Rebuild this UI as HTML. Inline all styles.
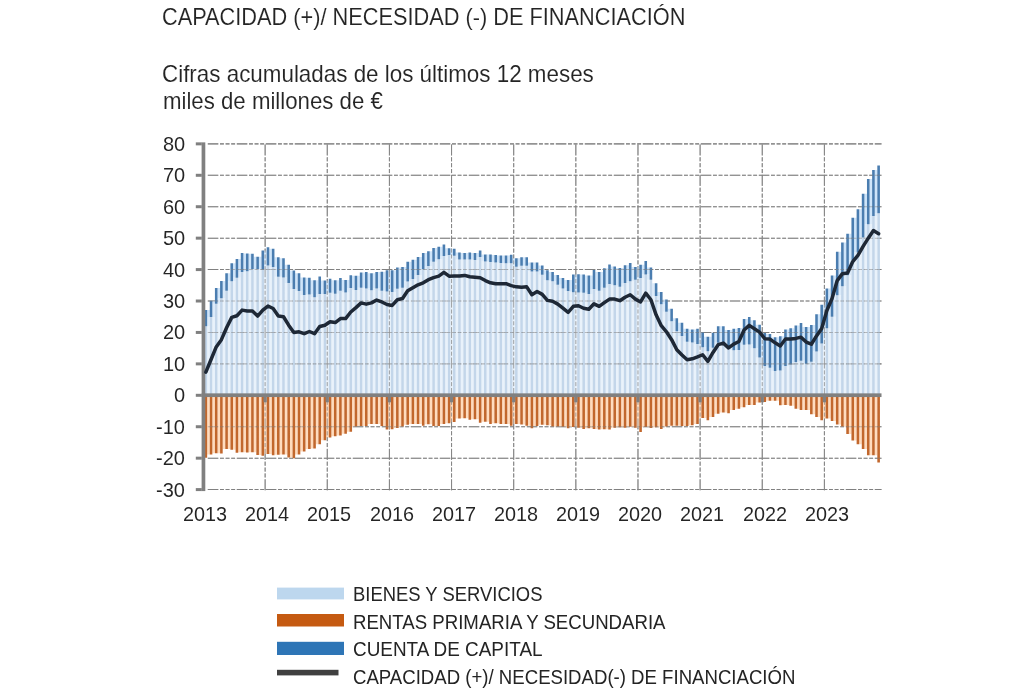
<!DOCTYPE html>
<html><head><meta charset="utf-8"><title>Chart</title>
<style>
html,body{margin:0;padding:0;background:#fff;}
body{width:1024px;height:694px;position:relative;overflow:hidden;font-family:"Liberation Sans",sans-serif;color:#242424;}
.t{position:absolute;white-space:nowrap;font-size:19px;line-height:22px;transform-origin:0 50%;}
.r{position:absolute;white-space:nowrap;font-size:19px;line-height:22px;text-align:right;transform-origin:100% 50%;}
.c{position:absolute;white-space:nowrap;font-size:19px;line-height:22px;text-align:center;transform-origin:50% 50%;}
</style></head><body>

<svg width="1024" height="694" viewBox="0 0 1024 694" style="position:absolute;left:0;top:0;filter:blur(0.35px)">
<g stroke="#808080" stroke-width="1.05" stroke-dasharray="10.5 1.7 3.9 1.7 3.9 1.7 3.9 1.7" fill="none"><path d="M207.8 489.59H881.5"/><path d="M207.8 458.16H881.5"/><path d="M207.8 426.73H881.5"/><path d="M207.8 363.87H881.5"/><path d="M207.8 332.44H881.5"/><path d="M207.8 301.01H881.5"/><path d="M207.8 269.58H881.5"/><path d="M207.8 238.15H881.5"/><path d="M207.8 206.72H881.5"/><path d="M207.8 175.29H881.5"/><path d="M207.8 143.86H881.5"/></g><g stroke="#868686" stroke-width="1" stroke-dasharray="11 1.8 4.08 1.8 4.08 1.8 4.08 1.8" fill="none"><path d="M265.14 490.29V143.16"/><path d="M327.28 490.29V143.16"/><path d="M389.42 490.29V143.16"/><path d="M451.56 490.29V143.16"/><path d="M513.7 490.29V143.16"/><path d="M575.84 490.29V143.16"/><path d="M637.98 490.29V143.16"/><path d="M700.12 490.29V143.16"/><path d="M762.26 490.29V143.16"/><path d="M824.4 490.29V143.16"/></g>
<path fill="#e9f2fb" d="M207.17 326.15h2.57V395.3h-2.57zM212.35 317.04h2.57V395.3h-2.57zM217.52 303.84h2.57V395.3h-2.57zM222.7 298.18h2.57V395.3h-2.57zM227.87 290.64h2.57V395.3h-2.57zM233.05 281.21h2.57V395.3h-2.57zM238.22 277.75h2.57V395.3h-2.57zM243.4 272.09h2.57V395.3h-2.57zM248.57 271.15h2.57V395.3h-2.57zM253.75 268.95h2.57V395.3h-2.57zM258.92 269.58h2.57V395.3h-2.57zM264.1 269.58h2.57V395.3h-2.57zM269.27 267.07h2.57V395.3h-2.57zM274.44 276.81h2.57V395.3h-2.57zM279.62 277.44h2.57V395.3h-2.57zM284.8 283.09h2.57V395.3h-2.57zM289.97 289.07h2.57V395.3h-2.57zM295.15 290.95h2.57V395.3h-2.57zM300.32 295.04h2.57V395.3h-2.57zM305.5 295.04h2.57V395.3h-2.57zM310.67 297.24h2.57V395.3h-2.57zM315.85 297.24h2.57V395.3h-2.57zM321.02 294.1h2.57V395.3h-2.57zM326.19 294.1h2.57V395.3h-2.57zM331.37 293.78h2.57V395.3h-2.57zM336.55 293.78h2.57V395.3h-2.57zM341.72 292.52h2.57V395.3h-2.57zM346.9 292.52h2.57V395.3h-2.57zM352.07 290.01h2.57V395.3h-2.57zM357.25 290.01h2.57V395.3h-2.57zM362.42 288.44h2.57V395.3h-2.57zM367.59 290.32h2.57V395.3h-2.57zM372.77 290.32h2.57V395.3h-2.57zM377.94 290.64h2.57V395.3h-2.57zM383.12 291.58h2.57V395.3h-2.57zM388.3 291.9h2.57V395.3h-2.57zM393.47 291.9h2.57V395.3h-2.57zM398.65 288.75h2.57V395.3h-2.57zM403.82 287.81h2.57V395.3h-2.57zM409 281.52h2.57V395.3h-2.57zM414.17 279.01h2.57V395.3h-2.57zM419.34 274.92h2.57V395.3h-2.57zM424.52 269.27h2.57V395.3h-2.57zM429.69 266.12h2.57V395.3h-2.57zM434.87 261.72h2.57V395.3h-2.57zM440.05 259.21h2.57V395.3h-2.57zM445.22 256.07h2.57V395.3h-2.57zM450.4 255.75h2.57V395.3h-2.57zM455.57 259.52h2.57V395.3h-2.57zM460.75 259.52h2.57V395.3h-2.57zM465.92 259.52h2.57V395.3h-2.57zM471.1 259.99h2.57V395.3h-2.57zM476.27 259.99h2.57V395.3h-2.57zM481.44 261.41h2.57V395.3h-2.57zM486.62 262.04h2.57V395.3h-2.57zM491.8 262.51h2.57V395.3h-2.57zM496.97 262.98h2.57V395.3h-2.57zM502.14 263.29h2.57V395.3h-2.57zM507.32 263.29h2.57V395.3h-2.57zM512.5 266.75h2.57V395.3h-2.57zM517.67 266.75h2.57V395.3h-2.57zM522.85 265.81h2.57V395.3h-2.57zM528.02 271.47h2.57V395.3h-2.57zM533.19 271.47h2.57V395.3h-2.57zM538.37 274.77h2.57V395.3h-2.57zM543.54 280.27h2.57V395.3h-2.57zM548.72 281.37h2.57V395.3h-2.57zM553.89 284.67h2.57V395.3h-2.57zM559.07 288.44h2.57V395.3h-2.57zM564.24 290.95h2.57V395.3h-2.57zM569.42 292.21h2.57V395.3h-2.57zM574.6 292.52h2.57V395.3h-2.57zM579.77 292.84h2.57V395.3h-2.57zM584.94 294.1h2.57V395.3h-2.57zM590.12 294.1h2.57V395.3h-2.57zM595.29 290.64h2.57V395.3h-2.57zM600.47 290.64h2.57V395.3h-2.57zM605.64 287.81h2.57V395.3h-2.57zM610.82 285.3h2.57V395.3h-2.57zM615.99 286.87h2.57V395.3h-2.57zM621.17 286.87h2.57V395.3h-2.57zM626.35 283.09h2.57V395.3h-2.57zM631.52 281.21h2.57V395.3h-2.57zM636.69 279.64h2.57V395.3h-2.57zM641.87 278.07h2.57V395.3h-2.57zM647.04 279.64h2.57V395.3h-2.57zM652.22 295.98h2.57V395.3h-2.57zM657.39 304.15h2.57V395.3h-2.57zM662.57 311.7h2.57V395.3h-2.57zM667.74 321.13h2.57V395.3h-2.57zM672.92 331.34h2.57V395.3h-2.57zM678.1 335.9h2.57V395.3h-2.57zM683.27 341.87h2.57V395.3h-2.57zM688.44 342.5h2.57V395.3h-2.57zM693.62 344.07h2.57V395.3h-2.57zM698.79 347.21h2.57V395.3h-2.57zM703.97 351.14h2.57V395.3h-2.57zM709.14 351.14h2.57V395.3h-2.57zM714.32 347.84h2.57V395.3h-2.57zM719.49 343.44h2.57V395.3h-2.57zM724.67 347.84h2.57V395.3h-2.57zM729.84 350.36h2.57V395.3h-2.57zM735.02 350.36h2.57V395.3h-2.57zM740.19 350.04h2.57V395.3h-2.57zM745.37 344.7h2.57V395.3h-2.57zM750.54 348.31h2.57V395.3h-2.57zM755.72 357.58h2.57V395.3h-2.57zM760.89 366.07h2.57V395.3h-2.57zM766.07 367.8h2.57V395.3h-2.57zM771.24 370.94h2.57V395.3h-2.57zM776.42 370.94h2.57V395.3h-2.57zM781.59 370.47h2.57V395.3h-2.57zM786.77 366.07h2.57V395.3h-2.57zM791.94 364.5h2.57V395.3h-2.57zM797.12 361.98h2.57V395.3h-2.57zM802.29 363.87h2.57V395.3h-2.57zM807.47 363.87h2.57V395.3h-2.57zM812.64 361.67h2.57V395.3h-2.57zM817.82 351.61h2.57V395.3h-2.57zM822.99 343.44h2.57V395.3h-2.57zM828.17 328.35h2.57V395.3h-2.57zM833.34 316.73h2.57V395.3h-2.57zM838.52 295.35h2.57V395.3h-2.57zM843.69 286.24h2.57V395.3h-2.57zM848.87 275.24h2.57V395.3h-2.57zM854.04 260.15h2.57V395.3h-2.57zM859.22 252.61h2.57V395.3h-2.57zM864.39 237.52h2.57V395.3h-2.57zM869.57 224.32h2.57V395.3h-2.57zM874.74 215.99h2.57V395.3h-2.57z"/><path fill="#dcebfa" d="M207.17 317.04h2.57V326.15h-2.57zM212.35 303.84h2.57V317.04h-2.57zM217.52 298.18h2.57V303.84h-2.57zM222.7 290.64h2.57V298.18h-2.57zM227.87 281.21h2.57V290.64h-2.57zM233.05 277.75h2.57V281.21h-2.57zM238.22 272.09h2.57V277.75h-2.57zM243.4 271.15h2.57V272.09h-2.57zM248.57 268.95h2.57V271.15h-2.57zM258.92 268.95h2.57V269.58h-2.57zM264.1 265.49h2.57V269.58h-2.57zM269.27 265.49h2.57V267.07h-2.57zM274.44 267.07h2.57V276.81h-2.57zM279.62 276.81h2.57V277.44h-2.57zM284.8 277.44h2.57V283.09h-2.57zM289.97 283.09h2.57V289.07h-2.57zM295.15 289.07h2.57V290.95h-2.57zM300.32 290.95h2.57V295.04h-2.57zM305.5 294.41h2.57V295.04h-2.57zM310.67 294.41h2.57V297.24h-2.57zM315.85 294.1h2.57V297.24h-2.57zM326.19 292.84h2.57V294.1h-2.57zM331.37 292.84h2.57V293.78h-2.57zM336.55 290.8h2.57V293.78h-2.57zM341.72 290.8h2.57V292.52h-2.57zM346.9 288.12h2.57V292.52h-2.57zM352.07 288.12h2.57V290.01h-2.57zM357.25 287.81h2.57V290.01h-2.57zM362.42 287.81h2.57V288.44h-2.57zM367.59 288.44h2.57V290.32h-2.57zM372.77 288.44h2.57V290.32h-2.57zM377.94 288.44h2.57V290.64h-2.57zM383.12 290.64h2.57V291.58h-2.57zM388.3 291.58h2.57V291.9h-2.57zM393.47 288.75h2.57V291.9h-2.57zM398.65 287.81h2.57V288.75h-2.57zM403.82 281.52h2.57V287.81h-2.57zM409 279.01h2.57V281.52h-2.57zM414.17 274.92h2.57V279.01h-2.57zM419.34 269.27h2.57V274.92h-2.57zM424.52 266.12h2.57V269.27h-2.57zM429.69 261.72h2.57V266.12h-2.57zM434.87 259.21h2.57V261.72h-2.57zM440.05 256.07h2.57V259.21h-2.57zM445.22 254.97h2.57V256.07h-2.57zM450.4 254.97h2.57V255.75h-2.57zM455.57 255.75h2.57V259.52h-2.57zM471.1 259.52h2.57V259.99h-2.57zM476.27 257.01h2.57V259.99h-2.57zM481.44 257.01h2.57V261.41h-2.57zM486.62 261.41h2.57V262.04h-2.57zM491.8 262.04h2.57V262.51h-2.57zM496.97 262.51h2.57V262.98h-2.57zM502.14 262.98h2.57V263.29h-2.57zM512.5 263.29h2.57V266.75h-2.57zM517.67 265.81h2.57V266.75h-2.57zM528.02 265.81h2.57V271.47h-2.57zM538.37 271.47h2.57V274.77h-2.57zM543.54 274.77h2.57V280.27h-2.57zM548.72 280.27h2.57V281.37h-2.57zM553.89 281.37h2.57V284.67h-2.57zM559.07 284.67h2.57V288.44h-2.57zM564.24 288.44h2.57V290.95h-2.57zM569.42 290.95h2.57V292.21h-2.57zM574.6 292.21h2.57V292.52h-2.57zM579.77 292.52h2.57V292.84h-2.57zM584.94 292.84h2.57V294.1h-2.57zM590.12 289.07h2.57V294.1h-2.57zM595.29 289.07h2.57V290.64h-2.57zM600.47 287.81h2.57V290.64h-2.57zM605.64 284.04h2.57V287.81h-2.57zM610.82 284.04h2.57V285.3h-2.57zM615.99 285.3h2.57V286.87h-2.57zM621.17 283.09h2.57V286.87h-2.57zM626.35 281.21h2.57V283.09h-2.57zM631.52 279.64h2.57V281.21h-2.57zM636.69 278.07h2.57V279.64h-2.57zM641.87 274.61h2.57V278.07h-2.57zM647.04 274.61h2.57V279.64h-2.57zM652.22 283.25h2.57V295.98h-2.57zM657.39 295.98h2.57V304.15h-2.57zM662.57 304.15h2.57V311.7h-2.57zM667.74 311.7h2.57V321.13h-2.57zM672.92 321.13h2.57V331.34h-2.57zM678.1 331.34h2.57V335.9h-2.57zM683.27 335.9h2.57V341.87h-2.57zM688.44 341.87h2.57V342.5h-2.57zM693.62 342.5h2.57V344.07h-2.57zM698.79 344.07h2.57V347.21h-2.57zM703.97 347.21h2.57V351.14h-2.57zM709.14 347.84h2.57V351.14h-2.57zM714.32 342.81h2.57V347.84h-2.57zM719.49 342.81h2.57V343.44h-2.57zM724.67 343.44h2.57V347.84h-2.57zM729.84 347.84h2.57V350.36h-2.57zM735.02 350.04h2.57V350.36h-2.57zM740.19 344.7h2.57V350.04h-2.57zM745.37 344.38h2.57V344.7h-2.57zM750.54 344.38h2.57V348.31h-2.57zM755.72 348.31h2.57V357.58h-2.57zM760.89 357.58h2.57V366.07h-2.57zM766.07 366.07h2.57V367.8h-2.57zM771.24 367.8h2.57V370.94h-2.57zM776.42 370.47h2.57V370.94h-2.57zM781.59 366.07h2.57V370.47h-2.57zM786.77 364.5h2.57V366.07h-2.57zM791.94 361.98h2.57V364.5h-2.57zM797.12 360.73h2.57V361.98h-2.57zM802.29 360.73h2.57V363.87h-2.57zM807.47 361.67h2.57V363.87h-2.57zM812.64 351.61h2.57V361.67h-2.57zM817.82 343.44h2.57V351.61h-2.57zM822.99 328.35h2.57V343.44h-2.57zM828.17 316.73h2.57V328.35h-2.57zM833.34 295.35h2.57V316.73h-2.57zM838.52 286.24h2.57V295.35h-2.57zM843.69 275.24h2.57V286.24h-2.57zM848.87 260.15h2.57V275.24h-2.57zM854.04 252.61h2.57V260.15h-2.57zM859.22 237.52h2.57V252.61h-2.57zM864.39 224.32h2.57V237.52h-2.57zM869.57 215.99h2.57V224.32h-2.57zM874.74 213.32h2.57V215.99h-2.57z"/><path fill="#cfe5fa" d="M207.17 310.12h2.57V317.04h-2.57zM212.35 300.7h2.57V303.84h-2.57zM217.52 288.12h2.57V298.18h-2.57zM222.7 280.89h2.57V290.64h-2.57zM227.87 273.35h2.57V281.21h-2.57zM233.05 263.29h2.57V277.75h-2.57zM238.22 258.89h2.57V272.09h-2.57zM243.4 253.55h2.57V271.15h-2.57zM248.57 253.87h2.57V268.95h-2.57zM253.75 256.69h2.57V268.95h-2.57zM258.92 256.69h2.57V268.95h-2.57zM264.1 250.41h2.57V265.49h-2.57zM269.27 248.84h2.57V265.49h-2.57zM274.44 257.32h2.57V267.07h-2.57zM279.62 258.27h2.57V276.81h-2.57zM284.8 264.87h2.57V277.44h-2.57zM289.97 270.52h2.57V283.09h-2.57zM295.15 273.35h2.57V289.07h-2.57zM300.32 277.44h2.57V290.95h-2.57zM305.5 277.75h2.57V294.41h-2.57zM310.67 280.27h2.57V294.41h-2.57zM315.85 280.27h2.57V294.1h-2.57zM321.02 280.58h2.57V294.1h-2.57zM326.19 280.58h2.57V292.84h-2.57zM331.37 280.27h2.57V292.84h-2.57zM336.55 280.27h2.57V290.8h-2.57zM341.72 280.11h2.57V290.8h-2.57zM346.9 280.11h2.57V288.12h-2.57zM352.07 275.71h2.57V288.12h-2.57zM357.25 275.71h2.57V287.81h-2.57zM362.42 272.41h2.57V287.81h-2.57zM367.59 273.35h2.57V288.44h-2.57zM372.77 273.35h2.57V288.44h-2.57zM377.94 272.09h2.57V288.44h-2.57zM383.12 271.78h2.57V290.64h-2.57zM388.3 270.21h2.57V291.58h-2.57zM393.47 270.21h2.57V288.75h-2.57zM398.65 267.38h2.57V287.81h-2.57zM403.82 267.07h2.57V281.52h-2.57zM409 261.72h2.57V279.01h-2.57zM414.17 259.84h2.57V274.92h-2.57zM419.34 257.01h2.57V269.27h-2.57zM424.52 252.92h2.57V266.12h-2.57zM429.69 251.35h2.57V261.72h-2.57zM434.87 247.89h2.57V259.21h-2.57zM440.05 246.64h2.57V256.07h-2.57zM445.22 248.21h2.57V254.97h-2.57zM450.4 248.84h2.57V254.97h-2.57zM455.57 252.61h2.57V255.75h-2.57zM460.75 252.92h2.57V259.52h-2.57zM465.92 252.92h2.57V259.52h-2.57zM471.1 252.92h2.57V259.52h-2.57zM476.27 252.92h2.57V257.01h-2.57zM481.44 254.49h2.57V257.01h-2.57zM486.62 254.49h2.57V261.41h-2.57zM491.8 255.12h2.57V262.04h-2.57zM496.97 255.44h2.57V262.51h-2.57zM502.14 255.44h2.57V262.98h-2.57zM507.32 255.44h2.57V263.29h-2.57zM512.5 258.27h2.57V263.29h-2.57zM517.67 258.27h2.57V265.81h-2.57zM522.85 257.32h2.57V265.81h-2.57zM528.02 262.51h2.57V265.81h-2.57zM533.19 262.51h2.57V271.47h-2.57zM538.37 265.49h2.57V271.47h-2.57zM543.54 270.21h2.57V274.77h-2.57zM548.72 272.09h2.57V280.27h-2.57zM553.89 274.92h2.57V281.37h-2.57zM559.07 278.07h2.57V284.67h-2.57zM564.24 280.11h2.57V288.44h-2.57zM569.42 280.11h2.57V290.95h-2.57zM574.6 274.61h2.57V292.21h-2.57zM579.77 274.61h2.57V292.52h-2.57zM584.94 275.55h2.57V292.84h-2.57zM590.12 275.55h2.57V289.07h-2.57zM595.29 272.09h2.57V289.07h-2.57zM600.47 272.09h2.57V287.81h-2.57zM605.64 268.32h2.57V284.04h-2.57zM610.82 266.44h2.57V284.04h-2.57zM615.99 268.01h2.57V285.3h-2.57zM621.17 268.01h2.57V283.09h-2.57zM626.35 265.18h2.57V281.21h-2.57zM631.52 267.07h2.57V279.64h-2.57zM636.69 267.07h2.57V278.07h-2.57zM641.87 264.87h2.57V274.61h-2.57zM647.04 267.38h2.57V274.61h-2.57zM657.39 291.9h2.57V295.98h-2.57zM662.57 299.6h2.57V304.15h-2.57zM667.74 308.87h2.57V311.7h-2.57zM672.92 318.3h2.57V321.13h-2.57zM678.1 322.7h2.57V331.34h-2.57zM683.27 328.67h2.57V335.9h-2.57zM688.44 329.45h2.57V341.87h-2.57zM693.62 329.45h2.57V342.5h-2.57zM698.79 332.13h2.57V344.07h-2.57zM703.97 336.84h2.57V347.21h-2.57zM709.14 336.84h2.57V347.84h-2.57zM714.32 332.75h2.57V342.81h-2.57zM719.49 326.15h2.57V342.81h-2.57zM724.67 330.08h2.57V343.44h-2.57zM729.84 330.08h2.57V347.84h-2.57zM735.02 328.67h2.57V350.04h-2.57zM740.19 328.04h2.57V344.7h-2.57zM745.37 318.93h2.57V344.38h-2.57zM750.54 320.18h2.57V344.38h-2.57zM755.72 324.74h2.57V348.31h-2.57zM760.89 332.91h2.57V357.58h-2.57zM766.07 334.01h2.57V366.07h-2.57zM771.24 337.31h2.57V367.8h-2.57zM776.42 337.31h2.57V370.47h-2.57zM781.59 336.37h2.57V366.07h-2.57zM786.77 329.61h2.57V364.5h-2.57zM791.94 328.35h2.57V361.98h-2.57zM797.12 325.53h2.57V360.73h-2.57zM802.29 327.1h2.57V360.73h-2.57zM807.47 327.1h2.57V361.67h-2.57zM812.64 324.9h2.57V351.61h-2.57zM817.82 314.21h2.57V343.44h-2.57zM822.99 304.78h2.57V328.35h-2.57zM828.17 288.44h2.57V316.73h-2.57zM833.34 275.55h2.57V295.35h-2.57zM838.52 251.66h2.57V286.24h-2.57zM843.69 242.55h2.57V275.24h-2.57zM848.87 233.75h2.57V260.15h-2.57zM854.04 217.72h2.57V252.61h-2.57zM859.22 209.23h2.57V237.52h-2.57zM864.39 193.83h2.57V224.32h-2.57zM869.57 179.06h2.57V215.99h-2.57zM874.74 169.95h2.57V213.32h-2.57z"/>
<path fill="#ffdcbe" d="M207.17 395.3h2.57V454.39h-2.57zM212.35 395.3h2.57V453.13h-2.57zM217.52 395.3h2.57V453.13h-2.57zM222.7 395.3h2.57V449.05h-2.57zM227.87 395.3h2.57V449.05h-2.57zM233.05 395.3h2.57V449.67h-2.57zM238.22 395.3h2.57V452.19h-2.57zM243.4 395.3h2.57V452.19h-2.57zM248.57 395.3h2.57V452.19h-2.57zM253.75 395.3h2.57V452.19h-2.57zM258.92 395.3h2.57V455.02h-2.57zM264.1 395.3h2.57V454.07h-2.57zM269.27 395.3h2.57V454.07h-2.57zM274.44 395.3h2.57V454.7h-2.57zM279.62 395.3h2.57V454.39h-2.57zM284.8 395.3h2.57V454.39h-2.57zM289.97 395.3h2.57V457.53h-2.57zM295.15 395.3h2.57V454.39h-2.57zM300.32 395.3h2.57V451.56h-2.57zM305.5 395.3h2.57V449.05h-2.57zM310.67 395.3h2.57V448.42h-2.57zM315.85 395.3h2.57V444.33h-2.57zM321.02 395.3h2.57V440.24h-2.57zM326.19 395.3h2.57V437.42h-2.57zM331.37 395.3h2.57V436.16h-2.57zM336.55 395.3h2.57V435.53h-2.57zM341.72 395.3h2.57V433.64h-2.57zM346.9 395.3h2.57V431.76h-2.57zM352.07 395.3h2.57V426.42h-2.57zM357.25 395.3h2.57V426.1h-2.57zM362.42 395.3h2.57V426.1h-2.57zM367.59 395.3h2.57V423.9h-2.57zM372.77 395.3h2.57V423.9h-2.57zM377.94 395.3h2.57V423.9h-2.57zM383.12 395.3h2.57V426.1h-2.57zM388.3 395.3h2.57V429.24h-2.57zM393.47 395.3h2.57V427.99h-2.57zM398.65 395.3h2.57V426.42h-2.57zM403.82 395.3h2.57V424.84h-2.57zM409 395.3h2.57V423.9h-2.57zM414.17 395.3h2.57V423.9h-2.57zM419.34 395.3h2.57V423.9h-2.57zM424.52 395.3h2.57V424.22h-2.57zM429.69 395.3h2.57V424.22h-2.57zM434.87 395.3h2.57V426.1h-2.57zM440.05 395.3h2.57V423.9h-2.57zM445.22 395.3h2.57V423.27h-2.57zM450.4 395.3h2.57V422.02h-2.57zM455.57 395.3h2.57V418.56h-2.57zM460.75 395.3h2.57V418.24h-2.57zM465.92 395.3h2.57V418.24h-2.57zM471.1 395.3h2.57V419.19h-2.57zM476.27 395.3h2.57V419.19h-2.57zM481.44 395.3h2.57V421.7h-2.57zM486.62 395.3h2.57V421.7h-2.57zM491.8 395.3h2.57V423.27h-2.57zM496.97 395.3h2.57V423.27h-2.57zM502.14 395.3h2.57V423.9h-2.57zM507.32 395.3h2.57V423.9h-2.57zM512.5 395.3h2.57V423.9h-2.57zM517.67 395.3h2.57V423.9h-2.57zM522.85 395.3h2.57V424.53h-2.57zM528.02 395.3h2.57V425.79h-2.57zM533.19 395.3h2.57V426.1h-2.57zM538.37 395.3h2.57V424.84h-2.57zM543.54 395.3h2.57V424.84h-2.57zM548.72 395.3h2.57V425.16h-2.57zM553.89 395.3h2.57V426.42h-2.57zM559.07 395.3h2.57V426.42h-2.57zM564.24 395.3h2.57V426.73h-2.57zM569.42 395.3h2.57V427.04h-2.57zM574.6 395.3h2.57V427.04h-2.57zM579.77 395.3h2.57V427.67h-2.57zM584.94 395.3h2.57V428.3h-2.57zM590.12 395.3h2.57V428.3h-2.57zM595.29 395.3h2.57V428.93h-2.57zM600.47 395.3h2.57V429.24h-2.57zM605.64 395.3h2.57V429.24h-2.57zM610.82 395.3h2.57V427.67h-2.57zM615.99 395.3h2.57V427.36h-2.57zM621.17 395.3h2.57V427.36h-2.57zM626.35 395.3h2.57V426.73h-2.57zM631.52 395.3h2.57V426.73h-2.57zM636.69 395.3h2.57V427.67h-2.57zM641.87 395.3h2.57V427.04h-2.57zM647.04 395.3h2.57V427.04h-2.57zM652.22 395.3h2.57V427.36h-2.57zM657.39 395.3h2.57V427.36h-2.57zM662.57 395.3h2.57V426.42h-2.57zM667.74 395.3h2.57V425.79h-2.57zM672.92 395.3h2.57V425.79h-2.57zM678.1 395.3h2.57V425.79h-2.57zM683.27 395.3h2.57V426.1h-2.57zM688.44 395.3h2.57V425.16h-2.57zM693.62 395.3h2.57V423.9h-2.57zM698.79 395.3h2.57V417.93h-2.57zM703.97 395.3h2.57V417.93h-2.57zM709.14 395.3h2.57V416.99h-2.57zM714.32 395.3h2.57V413.84h-2.57zM719.49 395.3h2.57V412.59h-2.57zM724.67 395.3h2.57V412.59h-2.57zM729.84 395.3h2.57V410.07h-2.57zM735.02 395.3h2.57V408.81h-2.57zM740.19 395.3h2.57V407.24h-2.57zM745.37 395.3h2.57V405.04h-2.57zM750.54 395.3h2.57V405.04h-2.57zM755.72 395.3h2.57V402.53h-2.57zM760.89 395.3h2.57V401.9h-2.57zM766.07 395.3h2.57V400.64h-2.57zM771.24 395.3h2.57V400.64h-2.57zM776.42 395.3h2.57V400.64h-2.57zM781.59 395.3h2.57V405.04h-2.57zM786.77 395.3h2.57V405.04h-2.57zM791.94 395.3h2.57V405.67h-2.57zM797.12 395.3h2.57V408.81h-2.57zM802.29 395.3h2.57V410.07h-2.57zM807.47 395.3h2.57V410.07h-2.57zM812.64 395.3h2.57V414.16h-2.57zM817.82 395.3h2.57V416.99h-2.57zM822.99 395.3h2.57V418.56h-2.57zM828.17 395.3h2.57V418.56h-2.57zM833.34 395.3h2.57V421.07h-2.57zM838.52 395.3h2.57V424.53h-2.57zM843.69 395.3h2.57V426.42h-2.57zM848.87 395.3h2.57V433.96h-2.57zM854.04 395.3h2.57V440.56h-2.57zM859.22 395.3h2.57V444.33h-2.57zM864.39 395.3h2.57V449.05h-2.57zM869.57 395.3h2.57V455.33h-2.57zM874.74 395.3h2.57V455.33h-2.57z"/>
<path fill="#c3d6ea" d="M204.57 326.15h2.6V395.3h-2.6zM209.75 317.04h2.6V395.3h-2.6zM214.92 303.84h2.6V395.3h-2.6zM220.09 298.18h2.6V395.3h-2.6zM225.27 290.64h2.6V395.3h-2.6zM230.44 281.21h2.6V395.3h-2.6zM235.62 277.75h2.6V395.3h-2.6zM240.79 272.09h2.6V395.3h-2.6zM245.97 271.15h2.6V395.3h-2.6zM251.14 268.95h2.6V395.3h-2.6zM256.32 268.95h2.6V395.3h-2.6zM261.5 269.58h2.6V395.3h-2.6zM266.67 265.49h2.6V395.3h-2.6zM271.84 267.07h2.6V395.3h-2.6zM277.02 276.81h2.6V395.3h-2.6zM282.19 277.44h2.6V395.3h-2.6zM287.37 283.09h2.6V395.3h-2.6zM292.55 289.07h2.6V395.3h-2.6zM297.72 290.95h2.6V395.3h-2.6zM302.89 295.04h2.6V395.3h-2.6zM308.07 294.41h2.6V395.3h-2.6zM313.25 297.24h2.6V395.3h-2.6zM318.42 294.1h2.6V395.3h-2.6zM323.59 294.1h2.6V395.3h-2.6zM328.77 292.84h2.6V395.3h-2.6zM333.94 293.78h2.6V395.3h-2.6zM339.12 290.8h2.6V395.3h-2.6zM344.3 292.52h2.6V395.3h-2.6zM349.47 288.12h2.6V395.3h-2.6zM354.64 290.01h2.6V395.3h-2.6zM359.82 287.81h2.6V395.3h-2.6zM364.99 288.44h2.6V395.3h-2.6zM370.17 290.32h2.6V395.3h-2.6zM375.34 288.44h2.6V395.3h-2.6zM380.52 290.64h2.6V395.3h-2.6zM385.69 291.58h2.6V395.3h-2.6zM390.87 291.9h2.6V395.3h-2.6zM396.05 288.75h2.6V395.3h-2.6zM401.22 287.81h2.6V395.3h-2.6zM406.39 281.52h2.6V395.3h-2.6zM411.57 279.01h2.6V395.3h-2.6zM416.74 274.92h2.6V395.3h-2.6zM421.92 269.27h2.6V395.3h-2.6zM427.09 266.12h2.6V395.3h-2.6zM432.27 261.72h2.6V395.3h-2.6zM437.44 259.21h2.6V395.3h-2.6zM442.62 256.07h2.6V395.3h-2.6zM447.8 254.97h2.6V395.3h-2.6zM452.97 255.75h2.6V395.3h-2.6zM458.14 259.52h2.6V395.3h-2.6zM463.32 259.52h2.6V395.3h-2.6zM468.5 259.52h2.6V395.3h-2.6zM473.67 259.99h2.6V395.3h-2.6zM478.84 257.01h2.6V395.3h-2.6zM484.02 261.41h2.6V395.3h-2.6zM489.19 262.04h2.6V395.3h-2.6zM494.37 262.51h2.6V395.3h-2.6zM499.54 262.98h2.6V395.3h-2.6zM504.72 263.29h2.6V395.3h-2.6zM509.89 263.29h2.6V395.3h-2.6zM515.07 266.75h2.6V395.3h-2.6zM520.25 265.81h2.6V395.3h-2.6zM525.42 265.81h2.6V395.3h-2.6zM530.6 271.47h2.6V395.3h-2.6zM535.77 271.47h2.6V395.3h-2.6zM540.95 274.77h2.6V395.3h-2.6zM546.12 280.27h2.6V395.3h-2.6zM551.3 281.37h2.6V395.3h-2.6zM556.47 284.67h2.6V395.3h-2.6zM561.64 288.44h2.6V395.3h-2.6zM566.82 290.95h2.6V395.3h-2.6zM572 292.21h2.6V395.3h-2.6zM577.17 292.52h2.6V395.3h-2.6zM582.35 292.84h2.6V395.3h-2.6zM587.52 294.1h2.6V395.3h-2.6zM592.7 289.07h2.6V395.3h-2.6zM597.87 290.64h2.6V395.3h-2.6zM603.05 287.81h2.6V395.3h-2.6zM608.22 284.04h2.6V395.3h-2.6zM613.39 285.3h2.6V395.3h-2.6zM618.57 286.87h2.6V395.3h-2.6zM623.75 283.09h2.6V395.3h-2.6zM628.92 281.21h2.6V395.3h-2.6zM634.1 279.64h2.6V395.3h-2.6zM639.27 278.07h2.6V395.3h-2.6zM644.45 274.61h2.6V395.3h-2.6zM649.62 279.64h2.6V395.3h-2.6zM654.8 295.98h2.6V395.3h-2.6zM659.97 304.15h2.6V395.3h-2.6zM665.14 311.7h2.6V395.3h-2.6zM670.32 321.13h2.6V395.3h-2.6zM675.5 331.34h2.6V395.3h-2.6zM680.67 335.9h2.6V395.3h-2.6zM685.85 341.87h2.6V395.3h-2.6zM691.02 342.5h2.6V395.3h-2.6zM696.2 344.07h2.6V395.3h-2.6zM701.37 347.21h2.6V395.3h-2.6zM706.55 351.14h2.6V395.3h-2.6zM711.72 347.84h2.6V395.3h-2.6zM716.89 342.81h2.6V395.3h-2.6zM722.07 343.44h2.6V395.3h-2.6zM727.25 347.84h2.6V395.3h-2.6zM732.42 350.36h2.6V395.3h-2.6zM737.6 350.04h2.6V395.3h-2.6zM742.77 344.7h2.6V395.3h-2.6zM747.95 344.38h2.6V395.3h-2.6zM753.12 348.31h2.6V395.3h-2.6zM758.3 357.58h2.6V395.3h-2.6zM763.47 366.07h2.6V395.3h-2.6zM768.64 367.8h2.6V395.3h-2.6zM773.82 370.94h2.6V395.3h-2.6zM779 370.47h2.6V395.3h-2.6zM784.17 366.07h2.6V395.3h-2.6zM789.35 364.5h2.6V395.3h-2.6zM794.52 361.98h2.6V395.3h-2.6zM799.7 360.73h2.6V395.3h-2.6zM804.87 363.87h2.6V395.3h-2.6zM810.05 361.67h2.6V395.3h-2.6zM815.22 351.61h2.6V395.3h-2.6zM820.39 343.44h2.6V395.3h-2.6zM825.57 328.35h2.6V395.3h-2.6zM830.75 316.73h2.6V395.3h-2.6zM835.92 295.35h2.6V395.3h-2.6zM841.1 286.24h2.6V395.3h-2.6zM846.27 275.24h2.6V395.3h-2.6zM851.45 260.15h2.6V395.3h-2.6zM856.62 252.61h2.6V395.3h-2.6zM861.8 237.52h2.6V395.3h-2.6zM866.97 224.32h2.6V395.3h-2.6zM872.14 215.99h2.6V395.3h-2.6zM877.32 213.32h2.6V395.3h-2.6z"/>
<path fill="#4a7db0" d="M204.57 310.12h2.6V326.15h-2.6zM209.75 300.7h2.6V317.04h-2.6zM214.92 288.12h2.6V303.84h-2.6zM220.09 280.89h2.6V298.18h-2.6zM225.27 273.35h2.6V290.64h-2.6zM230.44 263.29h2.6V281.21h-2.6zM235.62 258.89h2.6V277.75h-2.6zM240.79 252.92h2.6V272.09h-2.6zM245.97 253.55h2.6V271.15h-2.6zM251.14 253.87h2.6V268.95h-2.6zM256.32 256.69h2.6V268.95h-2.6zM261.5 250.41h2.6V269.58h-2.6zM266.67 247.26h2.6V265.49h-2.6zM271.84 248.84h2.6V267.07h-2.6zM277.02 257.32h2.6V276.81h-2.6zM282.19 258.27h2.6V277.44h-2.6zM287.37 264.87h2.6V283.09h-2.6zM292.55 270.52h2.6V289.07h-2.6zM297.72 273.35h2.6V290.95h-2.6zM302.89 277.44h2.6V295.04h-2.6zM308.07 277.75h2.6V294.41h-2.6zM313.25 280.27h2.6V297.24h-2.6zM318.42 276.49h2.6V294.1h-2.6zM323.59 280.58h2.6V294.1h-2.6zM328.77 278.85h2.6V292.84h-2.6zM333.94 280.27h2.6V293.78h-2.6zM339.12 278.07h2.6V290.8h-2.6zM344.3 280.11h2.6V292.52h-2.6zM349.47 275.24h2.6V288.12h-2.6zM354.64 275.71h2.6V290.01h-2.6zM359.82 272.41h2.6V287.81h-2.6zM364.99 272.09h2.6V288.44h-2.6zM370.17 273.35h2.6V290.32h-2.6zM375.34 272.09h2.6V288.44h-2.6zM380.52 271.78h2.6V290.64h-2.6zM385.69 270.21h2.6V291.58h-2.6zM390.87 270.21h2.6V291.9h-2.6zM396.05 267.38h2.6V288.75h-2.6zM401.22 267.07h2.6V287.81h-2.6zM406.39 261.72h2.6V281.52h-2.6zM411.57 259.84h2.6V279.01h-2.6zM416.74 257.01h2.6V274.92h-2.6zM421.92 252.92h2.6V269.27h-2.6zM427.09 251.35h2.6V266.12h-2.6zM432.27 247.89h2.6V261.72h-2.6zM437.44 246.64h2.6V259.21h-2.6zM442.62 244.44h2.6V256.07h-2.6zM447.8 248.21h2.6V254.97h-2.6zM452.97 248.84h2.6V255.75h-2.6zM458.14 252.61h2.6V259.52h-2.6zM463.32 252.92h2.6V259.52h-2.6zM468.5 252.61h2.6V259.52h-2.6zM473.67 252.92h2.6V259.99h-2.6zM478.84 250.41h2.6V257.01h-2.6zM484.02 254.49h2.6V261.41h-2.6zM489.19 254.49h2.6V262.04h-2.6zM494.37 255.12h2.6V262.51h-2.6zM499.54 255.44h2.6V262.98h-2.6zM504.72 255.44h2.6V263.29h-2.6zM509.89 254.81h2.6V263.29h-2.6zM515.07 258.27h2.6V266.75h-2.6zM520.25 257.32h2.6V265.81h-2.6zM525.42 257.32h2.6V265.81h-2.6zM530.6 262.51h2.6V271.47h-2.6zM535.77 262.51h2.6V271.47h-2.6zM540.95 265.49h2.6V274.77h-2.6zM546.12 270.21h2.6V280.27h-2.6zM551.3 272.09h2.6V281.37h-2.6zM556.47 274.92h2.6V284.67h-2.6zM561.64 278.07h2.6V288.44h-2.6zM566.82 280.11h2.6V290.95h-2.6zM572 274.61h2.6V292.21h-2.6zM577.17 274.29h2.6V292.52h-2.6zM582.35 274.61h2.6V292.84h-2.6zM587.52 275.55h2.6V294.1h-2.6zM592.7 269.89h2.6V289.07h-2.6zM597.87 272.09h2.6V290.64h-2.6zM603.05 268.32h2.6V287.81h-2.6zM608.22 264.55h2.6V284.04h-2.6zM613.39 266.44h2.6V285.3h-2.6zM618.57 268.01h2.6V286.87h-2.6zM623.75 265.18h2.6V283.09h-2.6zM628.92 262.98h2.6V281.21h-2.6zM634.1 267.07h2.6V279.64h-2.6zM639.27 264.87h2.6V278.07h-2.6zM644.45 261.09h2.6V274.61h-2.6zM649.62 267.38h2.6V279.64h-2.6zM654.8 283.25h2.6V295.98h-2.6zM659.97 291.9h2.6V304.15h-2.6zM665.14 299.6h2.6V311.7h-2.6zM670.32 308.87h2.6V321.13h-2.6zM675.5 318.3h2.6V331.34h-2.6zM680.67 322.7h2.6V335.9h-2.6zM685.85 328.67h2.6V341.87h-2.6zM691.02 329.45h2.6V342.5h-2.6zM696.2 328.67h2.6V344.07h-2.6zM701.37 332.13h2.6V347.21h-2.6zM706.55 336.84h2.6V351.14h-2.6zM711.72 332.75h2.6V347.84h-2.6zM716.89 326.15h2.6V342.81h-2.6zM722.07 326.15h2.6V343.44h-2.6zM727.25 330.08h2.6V347.84h-2.6zM732.42 328.67h2.6V350.36h-2.6zM737.6 328.04h2.6V350.04h-2.6zM742.77 318.93h2.6V344.7h-2.6zM747.95 317.04h2.6V344.38h-2.6zM753.12 320.18h2.6V348.31h-2.6zM758.3 324.74h2.6V357.58h-2.6zM763.47 332.91h2.6V366.07h-2.6zM768.64 334.01h2.6V367.8h-2.6zM773.82 337.31h2.6V370.94h-2.6zM779 336.37h2.6V370.47h-2.6zM784.17 329.61h2.6V366.07h-2.6zM789.35 328.35h2.6V364.5h-2.6zM794.52 325.53h2.6V361.98h-2.6zM799.7 323.01h2.6V360.73h-2.6zM804.87 327.1h2.6V363.87h-2.6zM810.05 324.9h2.6V361.67h-2.6zM815.22 314.21h2.6V351.61h-2.6zM820.39 304.78h2.6V343.44h-2.6zM825.57 288.44h2.6V328.35h-2.6zM830.75 275.55h2.6V316.73h-2.6zM835.92 251.66h2.6V295.35h-2.6zM841.1 242.55h2.6V286.24h-2.6zM846.27 233.75h2.6V275.24h-2.6zM851.45 217.72h2.6V260.15h-2.6zM856.62 209.23h2.6V252.61h-2.6zM861.8 193.83h2.6V237.52h-2.6zM866.97 179.06h2.6V224.32h-2.6zM872.14 169.95h2.6V215.99h-2.6zM877.32 165.55h2.6V213.32h-2.6z"/>
<path fill="#c2672c" d="M204.57 395.3h2.6V457.85h-2.6zM209.75 395.3h2.6V454.39h-2.6zM214.92 395.3h2.6V453.13h-2.6zM220.09 395.3h2.6V453.45h-2.6zM225.27 395.3h2.6V449.05h-2.6zM230.44 395.3h2.6V449.67h-2.6zM235.62 395.3h2.6V452.82h-2.6zM240.79 395.3h2.6V452.19h-2.6zM245.97 395.3h2.6V452.5h-2.6zM251.14 395.3h2.6V452.19h-2.6zM256.32 395.3h2.6V455.02h-2.6zM261.5 395.3h2.6V455.65h-2.6zM266.67 395.3h2.6V454.07h-2.6zM271.84 395.3h2.6V455.33h-2.6zM277.02 395.3h2.6V454.7h-2.6zM282.19 395.3h2.6V454.39h-2.6zM287.37 395.3h2.6V457.53h-2.6zM292.55 395.3h2.6V458.16h-2.6zM297.72 395.3h2.6V454.39h-2.6zM302.89 395.3h2.6V451.56h-2.6zM308.07 395.3h2.6V449.05h-2.6zM313.25 395.3h2.6V448.42h-2.6zM318.42 395.3h2.6V444.33h-2.6zM323.59 395.3h2.6V440.24h-2.6zM328.77 395.3h2.6V437.42h-2.6zM333.94 395.3h2.6V436.16h-2.6zM339.12 395.3h2.6V435.53h-2.6zM344.3 395.3h2.6V433.64h-2.6zM349.47 395.3h2.6V431.76h-2.6zM354.64 395.3h2.6V426.42h-2.6zM359.82 395.3h2.6V426.1h-2.6zM364.99 395.3h2.6V426.1h-2.6zM370.17 395.3h2.6V423.9h-2.6zM375.34 395.3h2.6V423.9h-2.6zM380.52 395.3h2.6V426.1h-2.6zM385.69 395.3h2.6V429.56h-2.6zM390.87 395.3h2.6V429.24h-2.6zM396.05 395.3h2.6V427.99h-2.6zM401.22 395.3h2.6V426.42h-2.6zM406.39 395.3h2.6V424.84h-2.6zM411.57 395.3h2.6V423.9h-2.6zM416.74 395.3h2.6V423.9h-2.6zM421.92 395.3h2.6V425.79h-2.6zM427.09 395.3h2.6V424.22h-2.6zM432.27 395.3h2.6V426.1h-2.6zM437.44 395.3h2.6V426.1h-2.6zM442.62 395.3h2.6V423.9h-2.6zM447.8 395.3h2.6V423.27h-2.6zM452.97 395.3h2.6V422.02h-2.6zM458.14 395.3h2.6V418.56h-2.6zM463.32 395.3h2.6V418.24h-2.6zM468.5 395.3h2.6V419.82h-2.6zM473.67 395.3h2.6V419.19h-2.6zM478.84 395.3h2.6V422.64h-2.6zM484.02 395.3h2.6V421.7h-2.6zM489.19 395.3h2.6V423.9h-2.6zM494.37 395.3h2.6V423.27h-2.6zM499.54 395.3h2.6V423.9h-2.6zM504.72 395.3h2.6V423.9h-2.6zM509.89 395.3h2.6V425.79h-2.6zM515.07 395.3h2.6V423.9h-2.6zM520.25 395.3h2.6V424.53h-2.6zM525.42 395.3h2.6V425.79h-2.6zM530.6 395.3h2.6V428.3h-2.6zM535.77 395.3h2.6V426.1h-2.6zM540.95 395.3h2.6V424.84h-2.6zM546.12 395.3h2.6V425.16h-2.6zM551.3 395.3h2.6V426.42h-2.6zM556.47 395.3h2.6V426.42h-2.6zM561.64 395.3h2.6V426.73h-2.6zM566.82 395.3h2.6V428.3h-2.6zM572 395.3h2.6V427.04h-2.6zM577.17 395.3h2.6V427.67h-2.6zM582.35 395.3h2.6V428.93h-2.6zM587.52 395.3h2.6V428.3h-2.6zM592.7 395.3h2.6V428.93h-2.6zM597.87 395.3h2.6V429.56h-2.6zM603.05 395.3h2.6V429.24h-2.6zM608.22 395.3h2.6V429.56h-2.6zM613.39 395.3h2.6V427.67h-2.6zM618.57 395.3h2.6V427.36h-2.6zM623.75 395.3h2.6V427.67h-2.6zM628.92 395.3h2.6V426.73h-2.6zM634.1 395.3h2.6V427.67h-2.6zM639.27 395.3h2.6V432.07h-2.6zM644.45 395.3h2.6V427.04h-2.6zM649.62 395.3h2.6V427.99h-2.6zM654.8 395.3h2.6V427.36h-2.6zM659.97 395.3h2.6V428.93h-2.6zM665.14 395.3h2.6V426.42h-2.6zM670.32 395.3h2.6V425.79h-2.6zM675.5 395.3h2.6V425.79h-2.6zM680.67 395.3h2.6V426.1h-2.6zM685.85 395.3h2.6V426.1h-2.6zM691.02 395.3h2.6V425.16h-2.6zM696.2 395.3h2.6V423.9h-2.6zM701.37 395.3h2.6V417.93h-2.6zM706.55 395.3h2.6V420.13h-2.6zM711.72 395.3h2.6V416.99h-2.6zM716.89 395.3h2.6V413.84h-2.6zM722.07 395.3h2.6V412.59h-2.6zM727.25 395.3h2.6V413.22h-2.6zM732.42 395.3h2.6V410.07h-2.6zM737.6 395.3h2.6V408.81h-2.6zM742.77 395.3h2.6V407.24h-2.6zM747.95 395.3h2.6V405.04h-2.6zM753.12 395.3h2.6V405.04h-2.6zM758.3 395.3h2.6V402.53h-2.6zM763.47 395.3h2.6V401.9h-2.6zM768.64 395.3h2.6V400.64h-2.6zM773.82 395.3h2.6V400.64h-2.6zM779 395.3h2.6V405.36h-2.6zM784.17 395.3h2.6V405.04h-2.6zM789.35 395.3h2.6V405.67h-2.6zM794.52 395.3h2.6V408.81h-2.6zM799.7 395.3h2.6V410.07h-2.6zM804.87 395.3h2.6V410.07h-2.6zM810.05 395.3h2.6V414.16h-2.6zM815.22 395.3h2.6V416.99h-2.6zM820.39 395.3h2.6V420.13h-2.6zM825.57 395.3h2.6V418.56h-2.6zM830.75 395.3h2.6V421.07h-2.6zM835.92 395.3h2.6V424.53h-2.6zM841.1 395.3h2.6V426.42h-2.6zM846.27 395.3h2.6V433.96h-2.6zM851.45 395.3h2.6V440.56h-2.6zM856.62 395.3h2.6V444.33h-2.6zM861.8 395.3h2.6V449.05h-2.6zM866.97 395.3h2.6V455.33h-2.6zM872.14 395.3h2.6V455.33h-2.6zM877.32 395.3h2.6V462.56h-2.6z"/>
<g opacity="0.5"><g stroke="#808080" stroke-width="1.05" stroke-dasharray="10.5 1.7 3.9 1.7 3.9 1.7 3.9 1.7" fill="none"><path d="M207.8 489.59H881.5"/><path d="M207.8 458.16H881.5"/><path d="M207.8 426.73H881.5"/><path d="M207.8 363.87H881.5"/><path d="M207.8 332.44H881.5"/><path d="M207.8 301.01H881.5"/><path d="M207.8 269.58H881.5"/><path d="M207.8 238.15H881.5"/><path d="M207.8 206.72H881.5"/><path d="M207.8 175.29H881.5"/><path d="M207.8 143.86H881.5"/></g></g><g opacity="0.75"><g stroke="#868686" stroke-width="1" stroke-dasharray="11 1.8 4.08 1.8 4.08 1.8 4.08 1.8" fill="none"><path d="M265.14 490.29V143.16"/><path d="M327.28 490.29V143.16"/><path d="M389.42 490.29V143.16"/><path d="M451.56 490.29V143.16"/><path d="M513.7 490.29V143.16"/><path d="M575.84 490.29V143.16"/><path d="M637.98 490.29V143.16"/><path d="M700.12 490.29V143.16"/><path d="M762.26 490.29V143.16"/><path d="M824.4 490.29V143.16"/></g></g>
<rect x="201.6" y="142.36" width="3.7" height="348.73" fill="#808080"/>
<rect x="201.6" y="393.35" width="679.9" height="3.7" fill="#808080"/>
<rect x="195.8" y="488.09" width="6" height="3" fill="#808080"/>
<rect x="195.8" y="456.66" width="6" height="3" fill="#808080"/>
<rect x="195.8" y="425.23" width="6" height="3" fill="#808080"/>
<rect x="195.8" y="393.8" width="6" height="3" fill="#808080"/>
<rect x="195.8" y="362.37" width="6" height="3" fill="#808080"/>
<rect x="195.8" y="330.94" width="6" height="3" fill="#808080"/>
<rect x="195.8" y="299.51" width="6" height="3" fill="#808080"/>
<rect x="195.8" y="268.08" width="6" height="3" fill="#808080"/>
<rect x="195.8" y="236.65" width="6" height="3" fill="#808080"/>
<rect x="195.8" y="205.22" width="6" height="3" fill="#808080"/>
<rect x="195.8" y="173.79" width="6" height="3" fill="#808080"/>
<rect x="195.8" y="142.36" width="6" height="3" fill="#808080"/>
<rect x="263.54" y="395.3" width="3.2" height="7" fill="#808080"/>
<rect x="325.68" y="395.3" width="3.2" height="7" fill="#808080"/>
<rect x="387.82" y="395.3" width="3.2" height="7" fill="#808080"/>
<rect x="449.96" y="395.3" width="3.2" height="7" fill="#808080"/>
<rect x="512.1" y="395.3" width="3.2" height="7" fill="#808080"/>
<rect x="574.24" y="395.3" width="3.2" height="7" fill="#808080"/>
<rect x="636.38" y="395.3" width="3.2" height="7" fill="#808080"/>
<rect x="698.52" y="395.3" width="3.2" height="7" fill="#808080"/>
<rect x="760.66" y="395.3" width="3.2" height="7" fill="#808080"/>
<rect x="822.8" y="395.3" width="3.2" height="7" fill="#808080"/>
<polyline fill="none" stroke="#1e2836" stroke-width="3.5" stroke-linejoin="round" stroke-linecap="round" points="205.87,372.2 211.05,359.47 216.22,346.9 221.4,339.67 226.57,327.73 231.75,317.35 236.92,315.78 242.09,310.12 247.27,311.07 252.44,311.07 257.62,316.1 262.8,310.12 267.97,306.04 273.14,308.55 278.32,316.1 283.5,316.73 288.67,325.21 293.85,332.44 299.02,331.81 304.19,333.7 309.37,331.5 314.55,333.7 319.72,326.47 324.89,325.21 330.07,321.75 335.25,322.54 340.42,318.61 345.6,318.61 350.77,312.01 355.94,307.61 361.12,302.9 366.29,304.15 371.47,302.9 376.64,300.07 381.82,301.95 387,304.47 392.17,305.41 397.35,299.75 402.52,298.5 407.69,290.8 412.87,287.81 418.04,284.82 423.22,282.78 428.39,279.64 433.57,277.59 438.75,276.18 443.92,272.41 449.1,276.18 454.27,276.02 459.44,276.02 464.62,275.39 469.8,276.81 474.97,277.28 480.14,277.75 485.32,280.58 490.5,282.78 495.67,283.72 500.84,283.72 506.02,283.72 511.19,285.61 516.37,286.87 521.55,287.18 526.72,286.87 531.89,294.72 537.07,291.58 542.25,294.41 547.42,300.38 552.6,301.32 557.77,304.15 562.94,308.24 568.12,312.32 573.3,306.35 578.47,305.72 583.64,308.24 588.82,309.18 594,303.84 599.17,306.35 604.35,302.58 609.52,299.12 614.69,299.12 619.87,300.7 625.05,297.24 630.22,294.72 635.39,299.12 640.57,301.95 645.75,293.15 650.92,299.75 656.1,314.84 661.27,325.68 666.44,331.81 671.62,339.67 676.8,349.73 681.97,355.07 687.14,359.78 692.32,358.84 697.5,356.96 702.67,354.76 707.85,361.36 713.02,352.4 718.19,344.7 723.37,343.13 728.54,347.84 733.72,344.07 738.89,341.55 744.07,330.08 749.25,325.37 754.42,328.67 759.6,332.13 764.77,338.73 769.94,339.04 775.12,342.81 780.29,345.95 785.47,339.04 790.64,339.04 795.82,338.41 801,337.15 806.17,342.03 811.35,344.23 816.52,335.9 821.69,328.51 826.87,310.44 832.04,298.5 837.22,280.58 842.39,273.67 847.57,273.04 852.75,261.57 857.92,255.44 863.1,246.32 868.27,238.15 873.44,230.61 878.62,233.75"/>
<rect x="277" y="587.6" width="67" height="11.8" fill="#bdd7ee"/>
<rect x="277" y="614" width="67" height="12.5" fill="#c55a11"/>
<rect x="277" y="641.8" width="67" height="13.2" fill="#2e75b6"/>
<rect x="277" y="669.8" width="61.5" height="5.6" fill="#404040"/>
</svg>
<div class="t" style="left:161.91px;top:1.55px;font-size:23.8px;line-height:29px;transform:scaleX(0.9139);-webkit-text-stroke:0.1px #fff">CAPACIDAD (+)/ NECESIDAD (-) DE FINANCIACIÓN</div>
<div class="t" style="left:161.78px;top:58.98px;font-size:24px;line-height:29px;transform:scaleX(0.9329);-webkit-text-stroke:0.1px #fff">Cifras acumuladas de los últimos 12 meses</div>
<div class="t" style="left:162.76px;top:86.28px;font-size:24px;line-height:29px;transform:scaleX(0.9255);-webkit-text-stroke:0.1px #fff">miles de millones de €</div>
<div class="t" style="left:156.31px;top:477.62px;font-size:20.4px;line-height:24px;transform:scaleX(0.9800);-webkit-text-stroke:0.04px #fff">-30</div>
<div class="t" style="left:156.31px;top:446.19px;font-size:20.4px;line-height:24px;transform:scaleX(0.9800);-webkit-text-stroke:0.04px #fff">-20</div>
<div class="t" style="left:156.31px;top:414.76px;font-size:20.4px;line-height:24px;transform:scaleX(0.9800);-webkit-text-stroke:0.04px #fff">-10</div>
<div class="t" style="left:174.1px;top:383.33px;font-size:20.4px;line-height:24px;transform:scaleX(0.9800);-webkit-text-stroke:0.04px #fff">0</div>
<div class="t" style="left:163.01px;top:351.9px;font-size:20.4px;line-height:24px;transform:scaleX(0.9800);-webkit-text-stroke:0.04px #fff">10</div>
<div class="t" style="left:163.01px;top:320.47px;font-size:20.4px;line-height:24px;transform:scaleX(0.9800);-webkit-text-stroke:0.04px #fff">20</div>
<div class="t" style="left:163.01px;top:289.04px;font-size:20.4px;line-height:24px;transform:scaleX(0.9800);-webkit-text-stroke:0.04px #fff">30</div>
<div class="t" style="left:163.01px;top:257.61px;font-size:20.4px;line-height:24px;transform:scaleX(0.9800);-webkit-text-stroke:0.04px #fff">40</div>
<div class="t" style="left:163.01px;top:226.18px;font-size:20.4px;line-height:24px;transform:scaleX(0.9800);-webkit-text-stroke:0.04px #fff">50</div>
<div class="t" style="left:163.01px;top:194.75px;font-size:20.4px;line-height:24px;transform:scaleX(0.9800);-webkit-text-stroke:0.04px #fff">60</div>
<div class="t" style="left:163.01px;top:163.32px;font-size:20.4px;line-height:24px;transform:scaleX(0.9800);-webkit-text-stroke:0.04px #fff">70</div>
<div class="t" style="left:163.01px;top:131.89px;font-size:20.4px;line-height:24px;transform:scaleX(0.9800);-webkit-text-stroke:0.04px #fff">80</div>
<div class="t" style="left:183.14px;top:501.93px;font-size:20.4px;line-height:24px;transform:scaleX(0.9720);-webkit-text-stroke:0.04px #fff">2013</div>
<div class="t" style="left:245.18px;top:501.93px;font-size:20.4px;line-height:24px;transform:scaleX(0.9720);-webkit-text-stroke:0.04px #fff">2014</div>
<div class="t" style="left:307.42px;top:501.93px;font-size:20.4px;line-height:24px;transform:scaleX(0.9720);-webkit-text-stroke:0.04px #fff">2015</div>
<div class="t" style="left:369.56px;top:501.93px;font-size:20.4px;line-height:24px;transform:scaleX(0.9720);-webkit-text-stroke:0.04px #fff">2016</div>
<div class="t" style="left:431.8px;top:501.93px;font-size:20.4px;line-height:24px;transform:scaleX(0.9720);-webkit-text-stroke:0.04px #fff">2017</div>
<div class="t" style="left:493.84px;top:501.93px;font-size:20.4px;line-height:24px;transform:scaleX(0.9720);-webkit-text-stroke:0.04px #fff">2018</div>
<div class="t" style="left:556.03px;top:501.93px;font-size:20.4px;line-height:24px;transform:scaleX(0.9720);-webkit-text-stroke:0.04px #fff">2019</div>
<div class="t" style="left:618.07px;top:501.93px;font-size:20.4px;line-height:24px;transform:scaleX(0.9720);-webkit-text-stroke:0.04px #fff">2020</div>
<div class="t" style="left:680.31px;top:501.93px;font-size:20.4px;line-height:24px;transform:scaleX(0.9720);-webkit-text-stroke:0.04px #fff">2021</div>
<div class="t" style="left:742.5px;top:501.93px;font-size:20.4px;line-height:24px;transform:scaleX(0.9720);-webkit-text-stroke:0.04px #fff">2022</div>
<div class="t" style="left:804.54px;top:501.93px;font-size:20.4px;line-height:24px;transform:scaleX(0.9720);-webkit-text-stroke:0.04px #fff">2023</div>
<div class="t" style="left:352.53px;top:583.14px;font-size:19.5px;line-height:23px;transform:scaleX(0.9448);-webkit-text-stroke:0.0px #fff">BIENES Y SERVICIOS</div>
<div class="t" style="left:352.51px;top:610.84px;font-size:19.5px;line-height:23px;transform:scaleX(0.9550);-webkit-text-stroke:0.0px #fff">RENTAS PRIMARIA Y SECUNDARIA</div>
<div class="t" style="left:353.05px;top:638.44px;font-size:19.5px;line-height:23px;transform:scaleX(0.9699);-webkit-text-stroke:0.0px #fff">CUENTA DE CAPITAL</div>
<div class="t" style="left:353.07px;top:666.14px;font-size:19.5px;line-height:23px;transform:scaleX(0.9537);-webkit-text-stroke:0.0px #fff">CAPACIDAD (+)/ NECESIDAD(-) DE FINANCIACIÓN</div>
</body></html>
